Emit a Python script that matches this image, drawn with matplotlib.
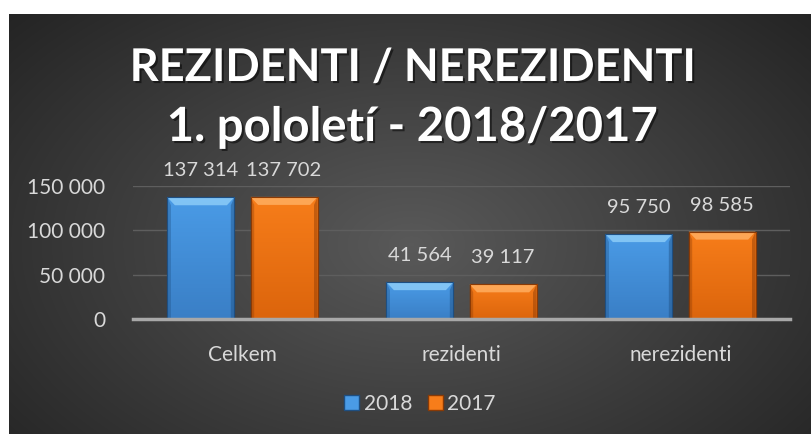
import numpy as np
import matplotlib.pyplot as plt
from matplotlib.patches import Patch, Polygon
from matplotlib.colors import LinearSegmentedColormap
from matplotlib import patheffects as pe

plt.rcParams['font.family'] = ['Lato', 'DejaVu Sans']

categories = ['Celkem', 'rezidenti', 'nerezidenti']
series_names = ['2018', '2017']
values_2018 = [137314, 41564, 95750]
values_2017 = [137702, 39117, 98585]
y_ticks = [0, 50000, 100000, 150000]

W, H = 812, 434
fig = plt.figure(figsize=(W / 100, H / 100), dpi=100, facecolor='white')

# dark radial background of the chart area
bg = fig.add_axes([9 / W, 0, 1 - 9 / W, (H - 14) / H], zorder=-5)
yy, xx = np.mgrid[0:420, 0:803]
r = np.sqrt(((xx - 402) / 520.0) ** 2 + ((yy - 230) / 330.0) ** 2)
shade = np.clip(0.35 - 0.2 * r, 0.14, 0.35)
bg.imshow(np.dstack([shade] * 3), aspect='auto', extent=[0, 1, 0, 1])
bg.set_axis_off()

txt_col = '#d9d9d9'
shadow = [pe.withSimplePatchShadow(offset=(1.5, -1.5), shadow_rgbFace='black', alpha=0.5)]

fig.text(0.508, (H - 68) / H, 'REZIDENTI / NEREZIDENTI', ha='center', va='center',
         fontsize=32.5, fontweight='bold', color='white', path_effects=shadow)
fig.text(0.508, (H - 127) / H, '1. pololetí - 2018/2017', ha='center', va='center',
         fontsize=34, fontweight='bold', color='white', path_effects=shadow)

ax = fig.add_axes([133 / W, (H - 319) / H, (790 - 133) / W, (319 - 186) / H])
ax.set_facecolor('none')
ax.set_xlim(-0.5, 2.5)
ax.set_ylim(0, 150000)
ax.set_yticks(y_ticks)
ax.set_yticklabels([f'{v:,}'.replace(',', ' ') for v in y_ticks])
ax.set_xticks(range(len(categories)))
ax.set_xticklabels(categories)
ax.tick_params(axis='y', length=0, pad=20, labelsize=15, labelcolor=txt_col)
ax.tick_params(axis='x', length=0, pad=19, labelsize=15, labelcolor=txt_col)
for s in ax.spines.values():
    s.set_visible(False)
ax.grid(axis='y', color='#5e5e5e', linewidth=1)
ax.set_axisbelow(True)
ax.axhline(0, color='#a8a8a8', linewidth=2.5, zorder=4, clip_on=False)

x = np.arange(len(categories))
width = 0.306
colors = [('#4a9be6', '#3a7fc6', '#8cccf8', '#1e4f82'),
          ('#f77d1a', '#dc650c', '#ffae60', '#8a3a05')]

fig.canvas.draw()
bb = ax.get_window_extent()
dx_px = 3.0 / bb.width * 3.0       # bevel size in data units (x)
dy_px = 8.0 / bb.height * 150000   # bevel size in data units (y)

for k, vals in enumerate([values_2018, values_2017]):
    top, bot, light, edge = colors[k]
    off = -0.19 if k == 0 else 0.19
    bars = ax.bar(x + off, vals, width, color=top, edgecolor=edge, linewidth=0.8, zorder=3)
    grad = np.linspace(0, 1, 50).reshape(-1, 1)
    cm = LinearSegmentedColormap.from_list('g', [top, bot])
    for b in bars:
        x0, w, h = b.get_x(), b.get_width(), b.get_height()
        im = ax.imshow(grad, cmap=cm, extent=[x0, x0 + w, 0, h], aspect='auto',
                       origin='upper', zorder=3.1)
        im.set_clip_path(b)
        # top bevel
        ax.add_patch(Polygon([[x0, h], [x0 + w, h], [x0 + w - dx_px * 2.5, h - dy_px],
                              [x0 + dx_px * 2.5, h - dy_px]], closed=True,
                             facecolor=light, edgecolor='none', alpha=0.85, zorder=3.2))
        # side bevels
        ax.add_patch(Polygon([[x0, h], [x0 + dx_px * 1.2, h - dy_px], [x0 + dx_px * 1.2, 0], [x0, 0]],
                             closed=True, facecolor=edge, edgecolor='none', alpha=0.35, zorder=3.2))
        ax.add_patch(Polygon([[x0 + w, h], [x0 + w - dx_px * 1.2, h - dy_px], [x0 + w - dx_px * 1.2, 0],
                              [x0 + w, 0]], closed=True, facecolor=edge, edgecolor='none',
                             alpha=0.45, zorder=3.2))
        ax.add_patch(Polygon([[x0, h], [x0 + w, h], [x0 + w, 0], [x0, 0]], closed=True,
                             facecolor='none', edgecolor=edge, linewidth=0.8, zorder=3.3))
        ax.annotate(f'{h:,}'.replace(',', ' '), (x0 + w / 2, h), xytext=(0, 13),
                    textcoords='offset points', ha='center', va='bottom',
                    fontsize=14.5, color=txt_col, annotation_clip=False)

handles = [Patch(facecolor=colors[0][0], edgecolor=colors[0][3]),
           Patch(facecolor=colors[1][0], edgecolor=colors[1][3])]
fig.legend(handles, series_names, loc='center', bbox_to_anchor=(0.517, (H - 404) / H),
           ncol=2, frameon=False, fontsize=15, labelcolor=txt_col,
           handlelength=0.75, handleheight=0.75, handletextpad=0.2, columnspacing=0.75)

fig.savefig('out.png', dpi=100, facecolor='white')
